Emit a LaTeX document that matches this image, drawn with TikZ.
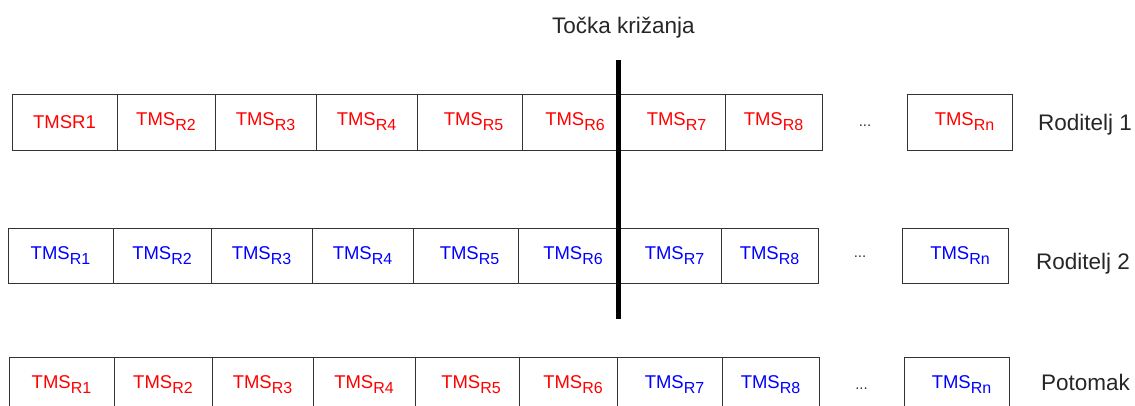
\documentclass[tikz,border=0pt]{standalone}
\usepackage{fontspec}
\setmainfont{Liberation Sans}
\usetikzlibrary{positioning}

\newcommand{\tms}[1]{TMS\raisebox{-5pt}{\fontsize{16}{16}\selectfont R#1}}

\begin{document}
\begin{tikzpicture}[
    x=1pt, y=-1pt,
    gene/.style={rectangle, draw=black!80, line width=1pt, minimum height=56pt, inner sep=0pt, outer sep=0pt, font=\fontsize{18.5}{20}\selectfont},
    parA/.style={gene, text=red},
    parB/.style={gene, text=blue},
    dots/.style={font=\fontsize{15}{15}\selectfont, text=black!80},
    rowname/.style={font=\fontsize{22.5}{24}\selectfont, text=black!85, inner sep=0pt},
    cut/.style={line width=4.5pt, black}
  ]
    \useasboundingbox (0,0) rectangle (1135,405);
    \clip (0,0) rectangle (1135,405);

    % Roditelj 1
    \node[parA, minimum width=105pt] (a1) at (64.5,122) {TMSR1};
    \node[parA, minimum width=98pt, right=0pt of a1] (a2) {\tms{2}};
    \node[parA, minimum width=101pt, right=0pt of a2] (a3) {\tms{3}};
    \node[parA, minimum width=101pt, right=0pt of a3] (a4) {\tms{4}};
    \node[parA, minimum width=105pt, right=0pt of a4] (a5) {\hspace{8pt}\tms{5}};
    \node[parA, minimum width=96pt, right=0pt of a5] (a6) {\hspace{10pt}\tms{6}};
    \node[parA, minimum width=107pt, right=0pt of a6] (a7) {\hspace{10pt}\tms{7}};
    \node[parA, minimum width=97pt, right=0pt of a7] (a8) {\tms{8}};
    \node[dots] (adots) at (865,126) {...};
    \node[parA, minimum width=105pt] (an) at (959.5,122) {\hspace{10pt}\tms{n}};
    \node[rowname, anchor=base west] (par1) at (1038,130) {Roditelj 1};

    % Roditelj 2
    \node[parB, minimum width=105pt, minimum height=55pt] (b1) at (60.5,255.5) {\tms{1}};
    \node[parB, minimum width=98pt, minimum height=55pt, right=0pt of b1] (b2) {\tms{2}};
    \node[parB, minimum width=101pt, minimum height=55pt, right=0pt of b2] (b3) {\tms{3}};
    \node[parB, minimum width=101pt, minimum height=55pt, right=0pt of b3] (b4) {\tms{4}};
    \node[parB, minimum width=105pt, minimum height=55pt, right=0pt of b4] (b5) {\hspace{8pt}\tms{5}};
    \node[parB, minimum width=100pt, minimum height=55pt, right=0pt of b5] (b6) {\hspace{10pt}\tms{6}};
    \node[parB, minimum width=103pt, minimum height=55pt, right=0pt of b6] (b7) {\hspace{10pt}\tms{7}};
    \node[parB, minimum width=97pt, minimum height=55pt, right=0pt of b7] (b8) {\tms{8}};
    \node[dots] (bdots) at (860,257) {...};
    \node[parB, minimum width=106pt, minimum height=55pt] (bn) at (955,255.5) {\hspace{10pt}\tms{n}};
    \node[rowname, anchor=base west] (par2) at (1036,269) {Roditelj 2};

    % Potomak
    \node[parA, minimum width=105pt] (c1) at (61.5,385) {\tms{1}};
    \node[parA, minimum width=98pt, right=0pt of c1] (c2) {\tms{2}};
    \node[parA, minimum width=101pt, right=0pt of c2] (c3) {\tms{3}};
    \node[parA, minimum width=102pt, right=0pt of c3] (c4) {\tms{4}};
    \node[parA, minimum width=104pt, right=0pt of c4] (c5) {\hspace{8pt}\tms{5}};
    \node[parA, minimum width=98pt, right=0pt of c5] (c6) {\hspace{10pt}\tms{6}};
    \node[parB, minimum width=105pt, right=0pt of c6] (c7) {\hspace{10pt}\tms{7}};
    \node[parB, minimum width=97pt, right=0pt of c7] (c8) {\tms{8}};
    \node[dots] (cdots) at (861.5,389) {...};
    \node[parB, minimum width=105pt] (cn) at (956.5,385) {\hspace{10pt}\tms{n}};
    \node[rowname, anchor=base west] (child) at (1041,390) {Potomak};

    % tocka krizanja
    \node[rowname, anchor=base west] (cross) at (552,33) {Točka križanja};
    \coordinate (cuttop) at (618.5,60);
    \coordinate (cutbot) at (618.5,319);
    \draw[cut] (cuttop) -- (cutbot);
  \end{tikzpicture}
\end{document}
